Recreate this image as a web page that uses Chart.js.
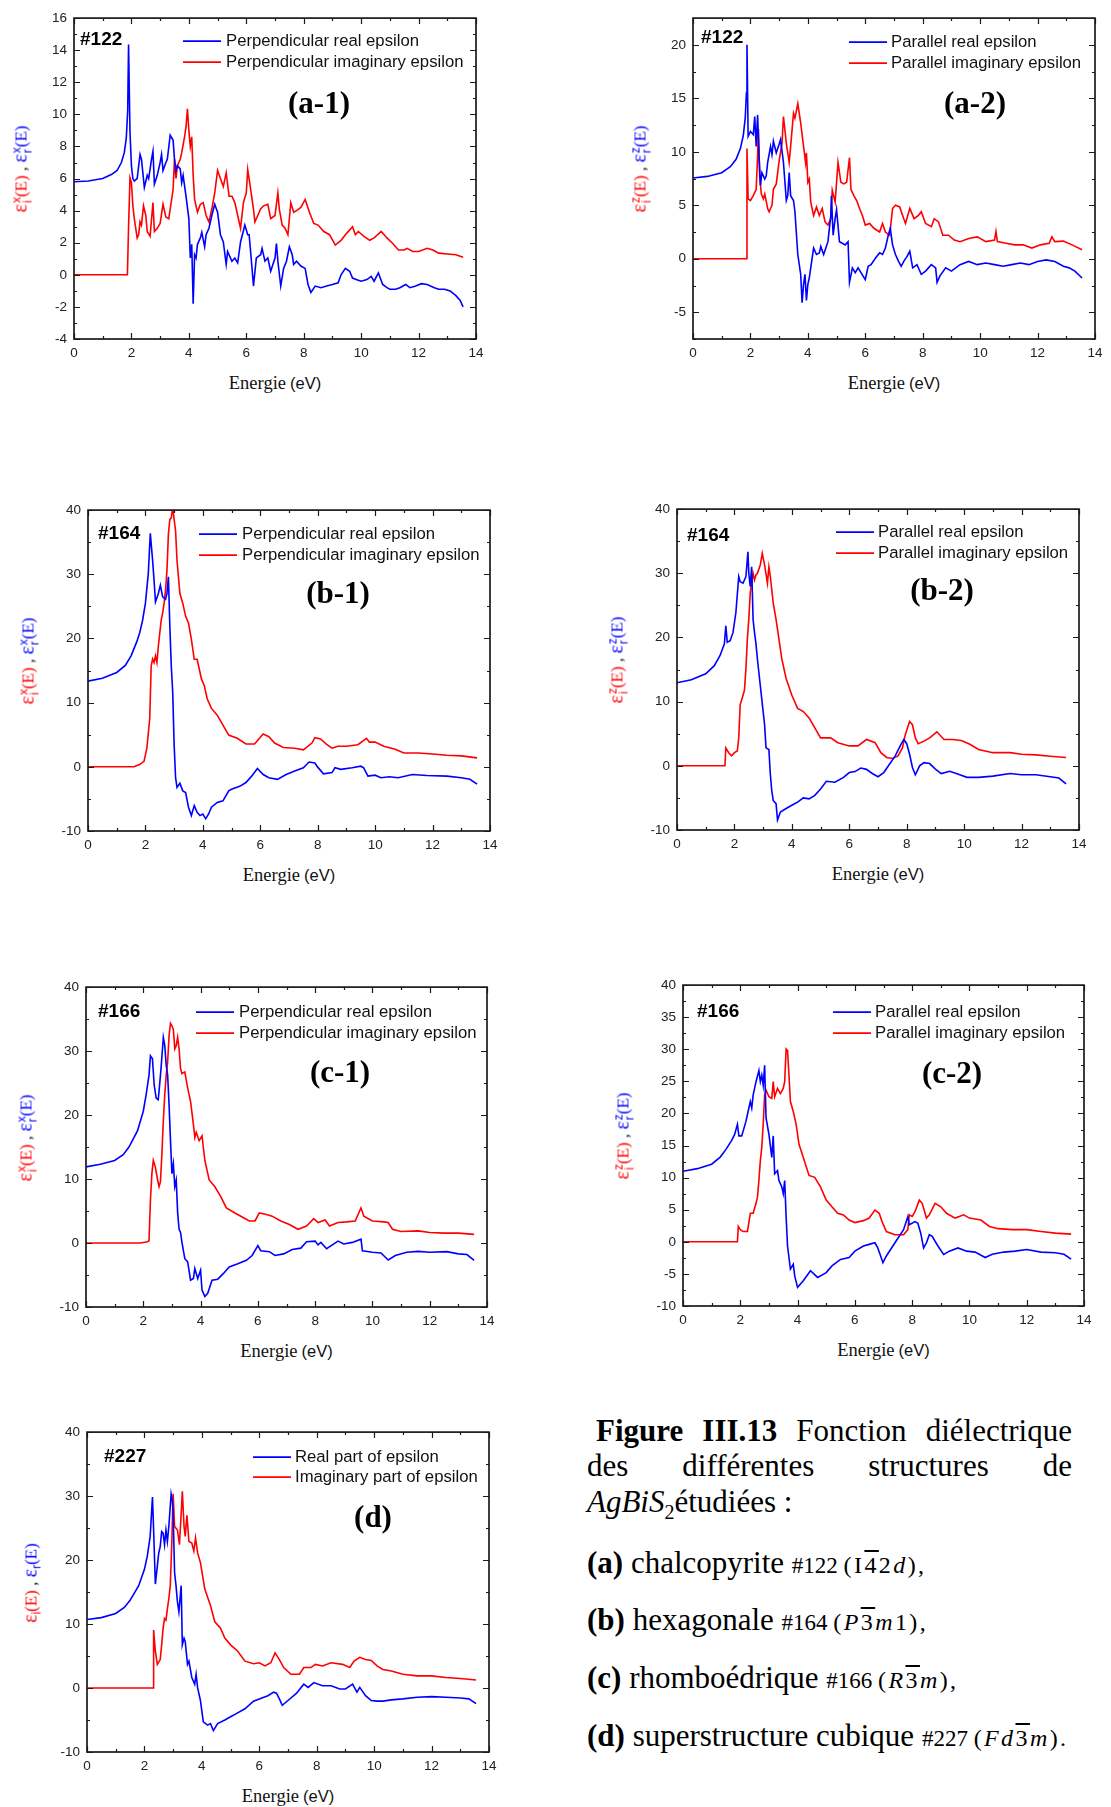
<!DOCTYPE html>
<html>
<head>
<meta charset="utf-8">
<script src="https://cdn.jsdelivr.net/npm/chart.js@4.4.0/dist/chart.umd.min.js"></script>
<style>
body { margin:0; background:#fff; }
#page { position:relative; width:1111px; height:1807px; overflow:hidden; background:#fff; }
#page canvas { position:absolute; }
.xt { position:absolute; transform:translate(-50%,-50%); white-space:nowrap; color:#111; }
.xt .s { font-family:"Liberation Serif"; font-size:18.5px; }
.xt .a { font-family:"Liberation Sans"; font-size:16.5px; }
.yt { position:absolute; transform:translate(-50%,-50%) rotate(-90deg); white-space:nowrap; font-family:"Liberation Serif"; font-size:17px; color:#111; }
.yt .r { color:#ff0000; }
.yt .b { color:#0000ff; }
.yt .eps { font-size:20px; }
.yt .st { display:inline-flex; flex-direction:column; vertical-align:6px; font-family:"Liberation Sans"; font-size:12px; line-height:11px; margin-left:1px; }
.yt .sb { font-family:"Liberation Sans"; font-size:12px; vertical-align:-4px; }
.cap { position:absolute; font-family:"Liberation Serif"; font-size:31px; line-height:36px; white-space:nowrap; color:#000; }
.cap.j { text-align:justify; text-align-last:justify; white-space:normal; }
.cap .sm { font-size:23px; }
.cap .m { font-size:24px; letter-spacing:2.4px; }
.cap i { font-style:italic; }
.cap sub { font-size:20px; line-height:0; font-style:normal; }
.ov { text-decoration:overline; }
</style>
</head>
<body>
<div id="page">
  <div class="cap j" style="left:596px; top:1413px; width:476px;"><b>Figure III.13</b> Fonction diélectrique</div>
  <div class="cap j" style="left:587px; top:1448px; width:485px;">des différentes structures de</div>
  <div class="cap" style="left:587px; top:1484px;"><i>AgBiS</i><sub>2</sub>étudiées :</div>
  <div class="cap" style="left:587px; top:1545px;"><b>(a)</b> chalcopyrite <span class="sm">#122 <span class="m">(I<span class="ov">4</span>2<i>d</i>),</span></span></div>
  <div class="cap" style="left:587px; top:1602px;"><b>(b)</b> hexagonale <span class="sm">#164 <span class="m">(<i>P</i><span class="ov">3</span><i>m</i>1),</span></span></div>
  <div class="cap" style="left:587px; top:1660px;"><b>(c)</b> rhomboédrique <span class="sm">#166 <span class="m">(<i>R</i><span class="ov">3</span><i>m</i>),</span></span></div>
  <div class="cap" style="left:587px; top:1718px;"><b>(d)</b> superstructure cubique <span class="sm">#227 <span class="m">(<i>Fd</i><span class="ov">3</span><i>m</i>).</span></span></div>
</div>
<script>
// ---- DATA (energy in eV, epsilon value) ----
var xTicks = [0, 2, 4, 6, 8, 10, 12, 14];
var a1YTicks = [-4, -2, 0, 2, 4, 6, 8, 10, 12, 14, 16];
var a2YTicks = [-5, 0, 5, 10, 15, 20];
var bYTicks = [-10, 0, 10, 20, 30, 40];
var c2YTicks = [-10, -5, 0, 5, 10, 15, 20, 25, 30, 35, 40];

var perpNames = ["Perpendicular real epsilon", "Perpendicular imaginary epsilon"];
var paraNames = ["Parallel real epsilon", "Parallel imaginary epsilon"];
var cubNames = ["Real part of epsilon", "Imaginary part of epsilon"];

// (a-1) #122 perpendicular
var a1Real = [[0,5.8],[0.5,5.85],[1.0,6.0],[1.3,6.25],[1.5,6.5],[1.65,7.0],[1.75,7.6],[1.82,8.5],[1.87,10.2],[1.9,14.35],[1.95,8.9],[2.0,6.8],[2.05,6.0],[2.1,5.85],[2.2,6.0],[2.3,7.5],[2.35,7.2],[2.45,5.45],[2.55,6.2],[2.6,6.0],[2.7,7.2],[2.75,7.7],[2.8,5.65],[2.9,6.2],[3.0,7.0],[3.05,7.5],[3.1,6.5],[3.2,7.0],[3.25,7.2],[3.35,8.7],[3.45,8.4],[3.5,7.2],[3.55,6.5],[3.6,6.8],[3.7,6.6],[3.75,5.75],[3.8,6.2],[3.9,4.9],[4.0,3.5],[4.05,1.05],[4.1,1.9],[4.15,-1.8],[4.2,1.25],[4.25,1.05],[4.3,1.9],[4.4,2.3],[4.45,2.65],[4.55,1.75],[4.6,2.5],[4.7,2.9],[4.8,3.7],[4.9,4.4],[5.0,3.9],[5.1,2.5],[5.2,2.05],[5.3,0.65],[5.35,1.45],[5.45,1.05],[5.5,0.85],[5.6,1.05],[5.7,0.75],[5.8,2.05],[5.95,3.1],[6.05,2.5],[6.1,2.5],[6.2,0.4],[6.25,-0.7],[6.35,1.05],[6.5,1.25],[6.55,1.65],[6.65,0.85],[6.75,1.05],[6.85,0.22],[7.0,1.05],[7.05,1.95],[7.1,0.85],[7.2,-0.7],[7.3,0.4],[7.4,0.85],[7.5,1.75],[7.6,1.25],[7.65,0.65],[7.75,0.85],[7.9,0.55],[8.05,0.4],[8.15,-0.6],[8.25,-1.1],[8.4,-0.7],[8.6,-0.8],[8.8,-0.7],[9.0,-0.6],[9.2,-0.5],[9.3,0.0],[9.45,0.4],[9.6,0.22],[9.7,-0.2],[9.85,-0.3],[10.0,-0.4],[10.2,-0.3],[10.35,-0.1],[10.45,-0.4],[10.6,0.12],[10.75,-0.6],[10.9,-0.8],[11.0,-0.9],[11.2,-0.9],[11.35,-0.8],[11.55,-0.6],[11.7,-0.8],[11.9,-0.7],[12.1,-0.55],[12.3,-0.6],[12.55,-0.8],[12.7,-0.9],[12.9,-0.9],[13.1,-1.0],[13.3,-1.3],[13.45,-1.6],[13.55,-2.0]];
var a1Imag = [[0,0],[1.86,0],[1.9,3.0],[1.95,6.05],[2.0,5.75],[2.05,4.3],[2.1,3.5],[2.2,2.3],[2.25,2.5],[2.3,3.3],[2.35,3.1],[2.42,4.3],[2.5,3.7],[2.55,2.7],[2.65,2.4],[2.75,4.5],[2.8,2.7],[2.9,2.9],[3.0,3.2],[3.1,4.4],[3.2,3.6],[3.3,3.5],[3.35,4.1],[3.45,5.3],[3.5,7.2],[3.55,6.0],[3.6,6.8],[3.7,7.2],[3.75,7.6],[3.85,8.6],[3.9,9.2],[3.95,10.35],[4.0,9.0],[4.05,8.0],[4.1,8.6],[4.15,6.2],[4.2,4.7],[4.3,3.9],[4.4,4.4],[4.5,4.5],[4.6,3.7],[4.7,3.3],[4.8,4.1],[4.9,5.1],[5.0,6.5],[5.1,6.0],[5.2,5.5],[5.3,6.35],[5.4,4.9],[5.5,4.9],[5.6,4.5],[5.7,3.7],[5.8,2.9],[5.9,4.5],[6.0,5.1],[6.05,6.55],[6.15,5.35],[6.25,4.1],[6.3,3.3],[6.4,3.7],[6.5,4.1],[6.6,4.3],[6.75,4.4],[6.85,3.5],[7.0,3.7],[7.1,5.1],[7.15,4.1],[7.25,3.1],[7.35,2.9],[7.45,2.5],[7.55,4.5],[7.65,3.9],[7.75,4.0],[7.9,4.2],[8.05,4.7],[8.2,3.9],[8.35,3.2],[8.5,3.1],[8.7,2.7],[8.9,2.5],[9.1,1.85],[9.3,2.15],[9.5,2.6],[9.7,3.0],[9.8,2.5],[9.9,2.7],[10.1,2.4],[10.3,2.15],[10.45,2.3],[10.7,2.7],[10.9,2.3],[11.1,1.95],[11.3,1.55],[11.5,1.55],[11.6,1.65],[11.8,1.45],[12.0,1.45],[12.3,1.65],[12.5,1.55],[12.7,1.35],[13.0,1.3],[13.3,1.25],[13.55,1.1]];

// (a-2) #122 parallel
var a2Real = [[0,7.55],[0.5,7.7],[1.0,8.05],[1.3,8.6],[1.5,9.3],[1.65,10.3],[1.75,11.5],[1.82,13.2],[1.86,15.5],[1.88,20.0],[1.92,11.45],[2.0,11.9],[2.1,11.6],[2.15,13.3],[2.2,10.5],[2.25,13.45],[2.3,9.6],[2.35,6.85],[2.4,8.05],[2.5,7.45],[2.55,7.75],[2.6,9.0],[2.7,10.5],[2.75,9.75],[2.8,11.0],[2.9,9.9],[3.0,10.7],[3.05,11.15],[3.15,9.0],[3.25,5.45],[3.3,5.9],[3.35,8.05],[3.4,5.9],[3.5,5.45],[3.55,4.4],[3.65,0.4],[3.75,-1.45],[3.8,-4.1],[3.85,-2.4],[3.9,-1.45],[3.95,-3.9],[4.0,-2.4],[4.05,-1.8],[4.1,-0.85],[4.2,1.0],[4.3,0.4],[4.4,0.55],[4.45,1.15],[4.55,0.4],[4.7,1.6],[4.8,4.05],[4.82,5.9],[4.88,2.2],[4.95,3.75],[5.0,4.6],[5.1,1.6],[5.2,1.45],[5.3,1.3],[5.4,1.6],[5.45,-2.2],[5.55,-0.85],[5.65,-1.3],[5.75,-0.85],[5.85,-1.3],[6.0,-1.95],[6.1,-0.7],[6.2,-0.55],[6.35,0.05],[6.5,0.55],[6.6,0.4],[6.7,1.0],[6.8,2.2],[6.87,2.85],[6.95,1.3],[7.05,0.4],[7.15,-0.2],[7.25,-0.7],[7.35,-0.2],[7.45,0.2],[7.55,0.7],[7.65,-0.85],[7.8,-0.55],[7.95,-1.45],[8.1,-1.15],[8.3,-0.55],[8.45,-0.85],[8.5,-2.2],[8.6,-1.6],[8.8,-0.85],[9.0,-1.15],[9.3,-0.55],[9.6,-0.25],[9.9,-0.55],[10.2,-0.4],[10.5,-0.55],[10.8,-0.7],[11.1,-0.55],[11.4,-0.4],[11.7,-0.55],[12.0,-0.25],[12.3,-0.1],[12.6,-0.25],[12.9,-0.7],[13.1,-0.85],[13.3,-1.15],[13.55,-1.8]];
var a2Imag = [[0,0],[1.86,0],[1.88,10.3],[1.92,5.6],[2.0,5.45],[2.1,5.9],[2.2,6.5],[2.25,9.6],[2.28,12.1],[2.32,7.75],[2.38,6.05],[2.45,5.6],[2.5,6.05],[2.6,4.7],[2.65,4.4],[2.75,5.0],[2.8,6.5],[2.9,7.0],[3.0,9.15],[3.1,10.8],[3.15,13.3],[3.25,10.8],[3.35,9.0],[3.45,12.05],[3.5,13.6],[3.55,13.15],[3.65,14.5],[3.75,12.7],[3.85,10.5],[3.92,9.0],[3.95,9.9],[4.0,7.15],[4.05,7.45],[4.1,5.3],[4.2,4.05],[4.3,4.85],[4.4,4.05],[4.5,4.7],[4.6,3.45],[4.7,3.15],[4.8,3.75],[4.85,6.4],[4.95,5.3],[5.05,9.0],[5.15,7.15],[5.25,7.0],[5.35,7.15],[5.45,9.45],[5.5,6.5],[5.6,5.9],[5.7,5.45],[5.8,4.7],[5.9,4.05],[6.0,3.15],[6.15,3.3],[6.3,2.85],[6.5,2.5],[6.6,3.3],[6.7,2.5],[6.85,2.2],[6.95,4.7],[7.05,5.0],[7.2,4.85],[7.3,4.05],[7.4,3.3],[7.55,4.7],[7.7,3.75],[7.85,4.05],[7.95,4.4],[8.1,3.3],[8.3,3.0],[8.4,3.75],[8.55,3.45],[8.7,2.2],[8.9,2.2],[9.1,1.75],[9.3,1.6],[9.6,1.9],[9.9,2.05],[10.2,1.6],[10.5,1.75],[10.55,2.55],[10.6,1.6],[10.9,1.45],[11.2,1.3],[11.5,1.3],[11.8,1.0],[12.1,1.3],[12.4,1.45],[12.5,2.05],[12.6,1.6],[12.9,1.65],[13.2,1.3],[13.55,0.85]];

// (b-1) #164 perpendicular
var b1Real = [[0,13.35],[0.5,13.8],[1.0,14.7],[1.3,15.8],[1.5,17.3],[1.7,19.5],[1.8,20.9],[1.9,22.8],[2.0,25.5],[2.1,30.1],[2.17,36.4],[2.25,32.15],[2.3,29.1],[2.35,25.7],[2.45,27.0],[2.52,28.3],[2.6,26.5],[2.7,26.1],[2.75,27.0],[2.8,29.6],[2.85,21.9],[2.9,15.75],[2.95,11.65],[3.0,3.45],[3.05,-1.7],[3.1,-3.2],[3.2,-2.55],[3.3,-3.75],[3.4,-4.0],[3.5,-6.3],[3.6,-7.6],[3.7,-6.05],[3.8,-7.1],[3.9,-7.6],[4.0,-7.35],[4.1,-8.1],[4.2,-7.35],[4.3,-6.3],[4.5,-5.55],[4.7,-5.3],[4.9,-3.75],[5.0,-3.5],[5.3,-3.0],[5.5,-2.45],[5.7,-1.45],[5.9,-0.25],[6.1,-1.2],[6.3,-1.7],[6.6,-1.95],[6.9,-1.2],[7.2,-0.65],[7.5,-0.15],[7.7,0.75],[7.9,0.6],[8.0,-0.05],[8.2,-1.1],[8.5,-0.9],[8.6,-0.15],[8.8,-0.4],[9.2,-0.15],[9.5,0.1],[9.6,-0.15],[9.75,-1.45],[10.0,-1.3],[10.2,-1.7],[10.5,-1.55],[10.8,-1.7],[11.3,-1.2],[11.8,-1.35],[12.5,-1.45],[13.0,-1.7],[13.3,-1.95],[13.55,-2.7]];
var b1Imag = [[0,0],[1.6,0],[1.8,0.35],[1.95,0.85],[2.05,2.9],[2.15,7.55],[2.2,15.75],[2.25,16.8],[2.3,16.25],[2.35,17.3],[2.4,16.25],[2.45,18.8],[2.5,20.85],[2.55,22.9],[2.6,23.95],[2.65,25.5],[2.7,27.55],[2.75,30.6],[2.8,36.25],[2.85,38.55],[2.9,38.8],[2.95,40.35],[3.0,38.55],[3.05,36.75],[3.1,32.15],[3.2,27.0],[3.3,25.5],[3.4,23.45],[3.5,22.4],[3.6,19.85],[3.7,16.75],[3.8,16.75],[3.85,15.75],[3.95,13.7],[4.05,12.65],[4.15,10.6],[4.3,9.1],[4.5,8.05],[4.7,6.5],[4.9,4.95],[5.2,4.45],[5.5,3.55],[5.8,3.55],[6.1,5.1],[6.3,4.7],[6.5,3.7],[6.8,3.0],[7.2,2.9],[7.5,2.65],[7.8,3.7],[7.9,4.55],[8.1,4.35],[8.3,3.55],[8.5,2.9],[8.7,3.2],[9.0,3.2],[9.4,3.45],[9.7,4.45],[9.8,3.85],[10.0,3.85],[10.3,3.2],[10.7,2.75],[11.0,2.15],[11.5,2.15],[12.0,2.0],[12.5,1.8],[13.0,1.7],[13.55,1.4]];

// (b-2) #164 parallel
var b2Real = [[0,12.95],[0.5,13.4],[1.0,14.35],[1.3,15.6],[1.5,17.2],[1.65,19.0],[1.7,21.8],[1.75,19.25],[1.85,19.5],[1.95,20.75],[2.05,23.85],[2.15,29.5],[2.2,28.7],[2.3,28.45],[2.4,29.5],[2.47,33.35],[2.5,30.0],[2.55,27.95],[2.6,31.0],[2.65,22.8],[2.7,20.75],[2.75,19.0],[2.8,16.65],[2.9,12.55],[3.0,8.45],[3.05,6.4],[3.1,2.8],[3.2,2.55],[3.25,-1.3],[3.3,-3.85],[3.35,-5.4],[3.45,-5.9],[3.5,-8.45],[3.6,-7.2],[3.8,-6.65],[4.0,-6.15],[4.2,-5.65],[4.4,-5.0],[4.6,-5.15],[4.8,-4.6],[5.0,-3.6],[5.2,-2.4],[5.5,-2.55],[5.8,-1.8],[6.0,-1.05],[6.2,-0.9],[6.4,-0.35],[6.6,-0.55],[6.8,-1.2],[7.0,-1.7],[7.2,-1.05],[7.4,0.25],[7.6,1.55],[7.8,3.35],[7.9,4.1],[8.0,3.45],[8.1,1.8],[8.2,-0.25],[8.3,-1.4],[8.45,0],[8.6,0.5],[8.8,0.35],[9.0,-0.5],[9.2,-1.2],[9.5,-0.85],[9.8,-1.3],[10.1,-1.8],[10.5,-1.8],[11.0,-1.6],[11.6,-1.2],[12.0,-1.4],[12.5,-1.4],[13.0,-1.7],[13.3,-1.9],[13.55,-2.8]];
var b2Imag = [[0,0],[1.67,0],[1.7,2.8],[1.8,2.05],[1.9,1.55],[2.0,2.05],[2.1,2.3],[2.15,4.35],[2.2,9.5],[2.3,11.0],[2.35,11.8],[2.4,15.1],[2.45,19.75],[2.5,22.8],[2.55,26.9],[2.6,28.45],[2.65,30.0],[2.7,28.95],[2.75,29.75],[2.8,30.0],[2.9,31.3],[2.97,33.1],[3.05,31.3],[3.15,28.45],[3.2,31.0],[3.25,29.5],[3.35,25.4],[3.45,22.8],[3.55,19.75],[3.65,16.65],[3.8,13.6],[4.0,11.0],[4.2,8.95],[4.4,8.45],[4.6,7.45],[4.8,5.9],[5.0,4.35],[5.35,4.35],[5.6,3.6],[6.0,3.1],[6.3,3.1],[6.6,4.1],[6.9,3.6],[7.1,2.05],[7.3,1.3],[7.5,1.15],[7.7,1.55],[7.85,2.8],[7.95,4.85],[8.1,6.9],[8.2,6.4],[8.3,4.35],[8.4,3.45],[8.6,3.85],[8.8,4.35],[9.05,5.3],[9.3,4.1],[9.6,4.1],[9.9,3.95],[10.2,3.35],[10.5,2.55],[11.0,2.05],[11.6,2.05],[12.0,1.8],[12.5,1.7],[13.0,1.5],[13.55,1.3]];

// (c-1) #166 perpendicular
var c1Real = [[0,11.9],[0.5,12.3],[1.0,12.9],[1.3,13.8],[1.5,15.0],[1.8,17.55],[2.0,20.6],[2.1,23.2],[2.2,26.25],[2.25,29.25],[2.32,28.8],[2.38,24.7],[2.45,22.65],[2.52,22.4],[2.55,23.7],[2.62,27.3],[2.7,32.15],[2.75,30.9],[2.8,27.8],[2.85,26.25],[2.9,21.65],[2.95,16.0],[3.0,10.85],[3.05,12.4],[3.1,8.8],[3.15,9.85],[3.2,4.7],[3.25,2.15],[3.3,1.65],[3.35,0.1],[3.45,-2.45],[3.55,-2.95],[3.65,-5.8],[3.75,-5.55],[3.8,-4.0],[3.9,-5.55],[4.0,-4.25],[4.05,-7.35],[4.15,-8.35],[4.25,-7.85],[4.4,-5.8],[4.6,-5.65],[4.8,-4.75],[5.0,-3.75],[5.3,-3.25],[5.6,-2.7],[5.8,-1.95],[6.0,-0.4],[6.1,-1.2],[6.4,-1.35],[6.6,-1.95],[6.9,-1.7],[7.2,-1.0],[7.5,-0.8],[7.7,0.2],[8.0,0.3],[8.1,-0.3],[8.2,0.1],[8.4,-0.9],[8.6,-0.3],[8.8,0.3],[9.0,-0.15],[9.3,0.1],[9.6,0.6],[9.65,-1.2],[10.0,-1.45],[10.3,-1.55],[10.55,-2.65],[10.8,-1.95],[11.2,-1.45],[11.6,-1.3],[12.0,-1.45],[12.6,-1.35],[13.0,-1.7],[13.3,-1.8],[13.55,-2.7]];
var c1Imag = [[0,0],[1.9,0],[2.15,0.2],[2.2,0.35],[2.25,6.75],[2.3,10.85],[2.35,12.9],[2.42,11.9],[2.5,9.85],[2.55,8.8],[2.6,9.6],[2.65,13.95],[2.7,19.1],[2.75,23.2],[2.8,26.25],[2.85,28.3],[2.9,32.4],[2.95,34.35],[3.0,33.95],[3.05,33.4],[3.1,30.35],[3.15,30.85],[3.2,32.15],[3.25,30.35],[3.3,27.3],[3.35,26.5],[3.45,26.75],[3.55,24.2],[3.65,22.15],[3.75,18.55],[3.8,16.5],[3.85,17.3],[3.95,16.0],[4.05,16.75],[4.15,12.9],[4.3,9.85],[4.5,8.8],[4.7,7.3],[4.9,5.5],[5.2,4.7],[5.5,3.95],[5.7,3.45],[5.9,3.45],[6.05,4.7],[6.3,4.45],[6.5,4.2],[6.8,3.45],[7.1,2.9],[7.4,2.15],[7.7,2.65],[7.95,3.8],[8.1,3.2],[8.35,3.6],[8.5,2.65],[8.8,3.2],[9.1,3.3],[9.4,3.45],[9.6,5.5],[9.7,4.2],[10.0,3.45],[10.4,3.3],[10.55,3.2],[10.7,2.15],[11.0,1.8],[11.6,1.9],[12.0,1.65],[12.5,1.55],[13.0,1.55],[13.55,1.35]];

// (c-2) #166 parallel
var c2Real = [[0,11.0],[0.5,11.4],[1.0,12.1],[1.3,13.2],[1.5,14.4],[1.7,15.8],[1.8,16.7],[1.9,18.3],[1.95,16.5],[2.05,16.5],[2.2,18.8],[2.3,20.85],[2.35,21.85],[2.4,20.85],[2.45,22.9],[2.55,24.95],[2.65,26.7],[2.7,24.95],[2.75,25.95],[2.8,24.4],[2.85,27.5],[2.9,19.3],[3.0,16.75],[3.1,13.15],[3.15,16.5],[3.2,10.6],[3.3,11.1],[3.35,9.55],[3.45,8.55],[3.5,7.5],[3.55,9.55],[3.6,3.95],[3.65,-0.65],[3.75,-4.25],[3.85,-3.5],[3.9,-5.3],[4.0,-7.1],[4.2,-6.05],[4.45,-4.5],[4.7,-5.55],[5.0,-4.8],[5.2,-3.75],[5.5,-2.75],[5.8,-2.45],[6.0,-1.45],[6.3,-0.65],[6.5,-0.4],[6.7,-0.15],[6.8,-0.95],[6.9,-2.2],[6.98,-3.25],[7.1,-2.2],[7.4,-0.15],[7.7,1.9],[7.85,3.95],[7.9,2.65],[8.1,3.15],[8.2,2.9],[8.3,1.35],[8.4,-0.95],[8.5,-0.15],[8.6,1.1],[8.7,0.85],[8.9,-0.65],[9.1,-1.95],[9.3,-1.45],[9.6,-0.95],[9.9,-1.45],[10.2,-1.6],[10.55,-2.45],[10.8,-1.95],[11.2,-1.6],[11.6,-1.45],[12.0,-1.2],[12.5,-1.6],[13.0,-1.7],[13.3,-1.95],[13.55,-2.7]];
var c2Imag = [[0,0],[1.9,0],[1.93,2.4],[2.0,1.9],[2.1,1.6],[2.25,1.6],[2.35,4.45],[2.45,4.45],[2.55,6.0],[2.6,7.0],[2.65,9.55],[2.7,12.65],[2.75,14.7],[2.8,18.3],[2.85,22.9],[2.9,23.6],[3.0,22.6],[3.1,22.35],[3.15,24.95],[3.2,22.6],[3.3,23.9],[3.4,23.1],[3.5,23.9],[3.55,24.95],[3.6,30.05],[3.65,29.8],[3.7,25.95],[3.75,21.85],[3.85,20.3],[3.95,18.3],[4.05,15.2],[4.2,13.15],[4.4,10.35],[4.6,10.05],[4.8,8.55],[5.0,6.5],[5.2,5.45],[5.4,4.45],[5.6,4.2],[5.8,3.4],[6.0,3.0],[6.3,3.3],[6.5,3.7],[6.7,4.95],[6.85,4.45],[6.95,3.15],[7.1,1.6],[7.4,1.1],[7.7,1.1],[7.85,1.9],[7.9,4.2],[8.0,3.95],[8.1,4.7],[8.25,6.5],[8.35,6.0],[8.5,3.7],[8.6,4.2],[8.8,6.0],[9.0,5.45],[9.2,4.45],[9.5,3.7],[9.8,4.2],[10.0,3.7],[10.4,3.4],[10.7,2.4],[11.0,2.05],[11.5,1.9],[12.0,1.9],[12.5,1.6],[13.0,1.35],[13.55,1.2]];

// (d) #227 cubic
var dReal = [[0,10.7],[0.5,11.0],[1.0,11.65],[1.3,12.6],[1.5,13.7],[1.8,16.0],[2.0,18.55],[2.1,20.6],[2.2,23.7],[2.28,29.85],[2.32,24.7],[2.38,16.25],[2.45,19.1],[2.5,21.15],[2.55,22.15],[2.6,24.45],[2.65,24.2],[2.7,22.4],[2.75,24.7],[2.8,22.9],[2.85,25.25],[2.93,30.35],[2.97,29.35],[3.0,27.3],[3.05,18.05],[3.1,16.0],[3.15,13.45],[3.2,11.9],[3.28,16.0],[3.32,6.75],[3.38,7.8],[3.42,7.3],[3.5,3.7],[3.55,4.2],[3.65,1.65],[3.75,0.6],[3.8,2.15],[3.85,0.1],[3.95,-1.95],[4.05,-5.3],[4.2,-5.8],[4.3,-5.55],[4.4,-6.65],[4.55,-5.55],[4.8,-5.0],[5.0,-4.5],[5.2,-4.0],[5.5,-3.25],[5.8,-2.05],[6.0,-1.7],[6.3,-1.2],[6.5,-0.65],[6.6,-0.8],[6.7,-1.7],[6.8,-2.7],[7.0,-1.95],[7.3,-0.8],[7.55,0.6],[7.7,0.1],[7.9,0.85],[8.2,0.35],[8.5,0.35],[8.8,-0.15],[9.0,-0.15],[9.25,0.6],[9.4,-0.65],[9.5,0.1],[9.7,-1.2],[9.9,-1.95],[10.1,-2.05],[10.3,-2.05],[10.6,-1.85],[11.0,-1.7],[11.5,-1.45],[12.0,-1.35],[12.5,-1.45],[13.0,-1.55],[13.3,-1.7],[13.55,-2.45]];
var dImag = [[0,0],[2.3,0],[2.32,9.05],[2.38,5.75],[2.45,3.7],[2.55,4.45],[2.6,6.75],[2.65,9.35],[2.7,10.85],[2.75,10.6],[2.8,12.4],[2.85,13.95],[2.9,16.0],[2.95,22.15],[3.0,30.35],[3.05,25.25],[3.15,24.7],[3.22,22.4],[3.28,27.3],[3.32,30.75],[3.38,25.25],[3.42,23.7],[3.48,27.0],[3.55,22.9],[3.65,22.65],[3.72,21.4],[3.78,23.45],[3.85,21.15],[3.95,19.6],[4.1,15.5],[4.3,12.9],[4.45,10.35],[4.65,9.35],[4.8,7.8],[5.0,6.75],[5.25,5.75],[5.5,4.2],[5.8,3.8],[6.0,3.95],[6.2,3.45],[6.4,3.95],[6.55,5.5],[6.7,4.45],[6.85,3.2],[7.1,2.15],[7.4,2.15],[7.55,3.2],[7.8,3.2],[7.95,3.7],[8.2,3.45],[8.5,3.95],[8.9,3.7],[9.15,3.2],[9.3,4.2],[9.5,4.8],[9.7,4.45],[9.9,4.3],[10.1,3.45],[10.3,2.9],[10.6,2.65],[11.0,2.15],[11.5,1.9],[12.0,1.9],[12.5,1.65],[13.0,1.5],[13.55,1.25]];

// ---- PANEL LAYOUT ----
// plot = [left, top, right, bottom] of the framed area on the page
var panels = [
    {plot:[74,13,476,339], yMin:-4, yMax:16, yTicks:a1YTicks, yMinor:1, real:a1Real, imag:a1Imag, names:perpNames, tag:"#122", label:"(a-1)", comp:"x", leg:[109,152,23,21], tagAt:[6,22], labAt:[245,87], ytX:21},
    {plot:[693,13,1095,339], yMin:-7.5, yMax:22.5, yTicks:a2YTicks, yMinor:2.5, real:a2Real, imag:a2Imag, names:paraNames, tag:"#122", label:"(a-2)", comp:"z", leg:[156,198,24,21], tagAt:[8,20], labAt:[282,87], ytX:640},
    {plot:[88,505,490,831], yMin:-10, yMax:40, yTicks:bYTicks, yMinor:5, real:b1Real, imag:b1Imag, names:perpNames, tag:"#164", label:"(b-1)", comp:"x", leg:[111,154,24,21], tagAt:[10,24], labAt:[250,85], ytX:28},
    {plot:[677,504,1079,830], yMin:-10, yMax:40, yTicks:bYTicks, yMinor:5, real:b2Real, imag:b2Imag, names:paraNames, tag:"#164", label:"(b-2)", comp:"z", leg:[159,201,23,21], tagAt:[10,27], labAt:[265,83], ytX:617},
    {plot:[86,982,487,1307], yMin:-10, yMax:40, yTicks:bYTicks, yMinor:5, real:c1Real, imag:c1Imag, names:perpNames, tag:"#166", label:"(c-1)", comp:"x", leg:[110,153,25,21], tagAt:[12,25], labAt:[254,87], ytX:26},
    {plot:[683,980,1084,1306], yMin:-10, yMax:40, yTicks:c2YTicks, yMinor:2.5, real:c2Real, imag:c2Imag, names:paraNames, tag:"#166", label:"(c-2)", comp:"z", leg:[150,192,27,21], tagAt:[14,27], labAt:[269,90], ytX:623},
    {plot:[87,1427,489,1752], yMin:-10, yMax:40, yTicks:bYTicks, yMinor:5, real:dReal, imag:dImag, names:cubNames, tag:"#227", label:"(d)", comp:"", leg:[166,208,25,20], tagAt:[17,25], labAt:[286,87], ytX:31}
];

var PADL = 62, PADT = 10, PADR = 14, PADB = 28;
var page = document.getElementById("page");

// frame, inward ticks (Origin style), legend and tags
function makeFrame(p) {
    return {
        id: "frame",
        afterDraw: function (chart) {
            var ctx = chart.ctx, a = chart.chartArea;
            var xs = chart.scales.x, ys = chart.scales.y;
            ctx.save();
            ctx.strokeStyle = "#1a1a1a";
            ctx.lineWidth = 1.2;
            ctx.beginPath();
            for (var v = 0; v <= 14.001; v += 1) {
                var px = Math.round(xs.getPixelForValue(v)) + 0.5;
                var len = (v % 2 === 0) ? 6 : 3;
                ctx.moveTo(px, a.bottom); ctx.lineTo(px, a.bottom - len);
                ctx.moveTo(px, a.top); ctx.lineTo(px, a.top + len);
            }
            for (var w = p.yMin; w <= p.yMax + 1e-6; w += p.yMinor) {
                var py = Math.round(ys.getPixelForValue(w)) + 0.5;
                var isMajor = p.yTicks.some(function (t) { return Math.abs(t - w) < 1e-6; });
                var l2 = isMajor ? 6 : 3;
                ctx.moveTo(a.left, py); ctx.lineTo(a.left + l2, py);
                ctx.moveTo(a.right, py); ctx.lineTo(a.right - l2, py);
            }
            ctx.stroke();
            ctx.lineWidth = 1.7;
            ctx.strokeRect(a.left, a.top, a.right - a.left, a.bottom - a.top);

            // legend
            var ds = chart.data.datasets;
            ctx.font = "16.7px 'Liberation Sans'";
            ctx.textBaseline = "middle";
            ctx.textAlign = "left";
            for (var i = 0; i < ds.length; i++) {
                var ly = a.top + p.leg[2] + i * p.leg[3];
                ctx.strokeStyle = ds[i].borderColor;
                ctx.lineWidth = 1.7;
                ctx.beginPath();
                ctx.moveTo(a.left + p.leg[0], ly);
                ctx.lineTo(a.left + p.leg[0] + 38, ly);
                ctx.stroke();
                ctx.fillStyle = "#111";
                ctx.fillText(ds[i].label, a.left + p.leg[1], ly);
            }
            // structure tag and panel label
            ctx.fillStyle = "#000";
            ctx.font = "bold 19px 'Liberation Sans'";
            ctx.fillText(p.tag, a.left + p.tagAt[0], a.top + p.tagAt[1]);
            ctx.font = "bold 31px 'Liberation Serif'";
            ctx.textAlign = "center";
            ctx.fillText(p.label, a.left + p.labAt[0], a.top + p.labAt[1]);
            ctx.restore();
        }
    };
}

function toXY(arr) {
    return arr.map(function (pt) { return {x: pt[0], y: pt[1]}; });
}

panels.forEach(function (p) {
    var w = p.plot[2] - p.plot[0], h = p.plot[3] - p.plot[1];
    var cv = document.createElement("canvas");
    cv.width = w + PADL + PADR;
    cv.height = h + PADT + PADB;
    cv.style.left = (p.plot[0] - PADL) + "px";
    cv.style.top = (p.plot[1] - PADT) + "px";
    cv.style.width = cv.width + "px";
    cv.style.height = cv.height + "px";
    page.appendChild(cv);

    var tickFont = {family: "Liberation Sans", size: 13.5};
    new Chart(cv, {
        type: "line",
        data: {
            datasets: [
                {label: p.names[0], data: toXY(p.real), borderColor: "#0000ff", borderWidth: 1.6, pointRadius: 0, tension: 0, fill: false},
                {label: p.names[1], data: toXY(p.imag), borderColor: "#ff0000", borderWidth: 1.6, pointRadius: 0, tension: 0, fill: false}
            ]
        },
        options: {
            responsive: false,
            animation: false,
            devicePixelRatio: 1,
            layout: {padding: {top: PADT, right: PADR, left: 0, bottom: 0}},
            plugins: {legend: {display: false}, tooltip: {enabled: false}},
            scales: {
                x: {
                    type: "linear", min: 0, max: 14,
                    afterBuildTicks: function (s) { s.ticks = xTicks.map(function (v) { return {value: v}; }); },
                    afterFit: function (s) { s.height = PADB; },
                    grid: {display: false, drawTicks: false},
                    border: {display: false},
                    ticks: {padding: 6, color: "#222", font: tickFont, maxRotation: 0, autoSkip: false}
                },
                y: {
                    type: "linear", min: p.yMin, max: p.yMax,
                    afterBuildTicks: function (s) { s.ticks = p.yTicks.map(function (v) { return {value: v}; }); },
                    afterFit: function (s) { s.width = PADL; },
                    grid: {display: false, drawTicks: false},
                    border: {display: false},
                    ticks: {padding: 7, color: "#222", font: tickFont, autoSkip: false}
                }
            }
        },
        plugins: [makeFrame(p)]
    });

    // axis titles
    var xt = document.createElement("div");
    xt.className = "xt";
    xt.style.left = ((p.plot[0] + p.plot[2]) / 2) + "px";
    xt.style.top = (p.plot[3] + 44) + "px";
    xt.innerHTML = '<span class="s">Energie</span> <span class="a">(eV)</span>';
    page.appendChild(xt);

    var yt = document.createElement("div");
    yt.className = "yt";
    yt.style.left = p.ytX + "px";
    yt.style.top = ((p.plot[1] + p.plot[3]) / 2 - 7) + "px";
    function part(sub) {
        if (p.comp) {
            return '<span class="eps">ε</span><span class="st"><span>' + p.comp + '</span><span>' + sub + '</span></span>(E)';
        }
        return '<span class="eps">ε</span><span class="sb">' + sub + '</span>(E)';
    }
    yt.innerHTML = '<span class="r">' + part("i") + '</span> , <span class="b">' + part("r") + '</span>';
    page.appendChild(yt);
});
</script>
</body>
</html>
